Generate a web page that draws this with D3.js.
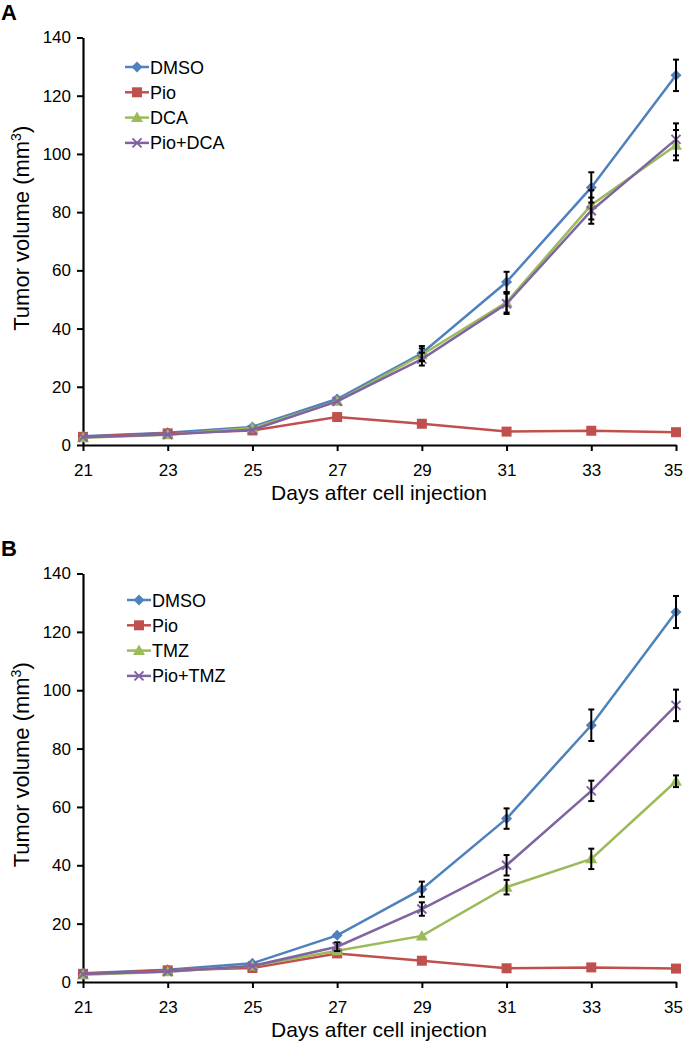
<!DOCTYPE html>
<html>
<head>
<meta charset="utf-8">
<script src="https://cdn.jsdelivr.net/npm/d3@7"></script>
<style>
  body { margin: 0; background: #fff; }
  text { font-family: 'Liberation Sans', Arial, sans-serif; fill: #000; }
</style>
</head>
<body>
<div id="vis"></div>
<script>
/* *************************** Data ***************************** */

// Days on the x axis
var days = [21, 23, 25, 27, 29, 31, 33, 35];
var xTicks = [21, 23, 25, 27, 29, 31, 33, 35];
var yTicks = [0, 20, 40, 60, 80, 100, 120, 140];

// Panel A series (mean tumor volume, mm3)
var dmsoA = [3.0, 4.2, 6.2, 15.8, 31.5, 56.0, 88.5, 127.0];
var pioA = [2.8, 4.0, 5.0, 9.6, 7.3, 4.6, 4.9, 4.4];
var dcaA = [2.5, 3.5, 5.8, 15.0, 31.0, 49.0, 82.5, 103.0];
var pioDcaA = [2.7, 3.6, 5.2, 15.0, 29.5, 48.5, 80.5, 105.0];

// Panel A error (+/-)
var dmsoErrA = [0.3, 0.4, 0.5, 0.8, 2.5, 3.5, 5.2, 5.4];
var pioErrA = [0.2, 0.3, 0.4, 0.6, 0.5, 0.4, 0.4, 0.4];
var dcaErrA = [0.2, 0.3, 0.5, 0.8, 2.2, 3.5, 5.0, 5.2];
var pioDcaErrA = [0.2, 0.3, 0.5, 0.8, 2.2, 3.5, 4.5, 5.5];

// Panel B series
var dmsoB = [3.0, 4.2, 6.4, 16.0, 31.8, 56.0, 88.0, 126.8];
var pioB = [2.8, 4.0, 4.8, 9.8, 7.3, 4.7, 5.0, 4.6];
var tmzB = [2.5, 3.5, 5.5, 10.7, 15.8, 32.5, 42.2, 68.8];
var pioTmzB = [2.7, 3.6, 5.5, 12.1, 25.0, 40.0, 65.5, 94.8];

// Panel B error (+/-)
var dmsoErrB = [0.3, 0.4, 0.5, 0.8, 2.6, 3.5, 5.4, 5.5];
var pioErrB = [0.2, 0.3, 0.4, 0.6, 0.5, 0.4, 0.4, 0.4];
var tmzErrB = [0.2, 0.3, 0.4, 0.6, 0.8, 2.5, 3.5, 2.0];
var pioTmzErrB = [0.2, 0.3, 0.5, 1.5, 2.3, 3.5, 3.5, 5.4];

/* *************************** Settings ***************************** */

var width = 684;
var height = 1050;

var colors = {
    blue: '#4f81bd',
    red: '#c0504d',
    green: '#9bbb59',
    purple: '#8064a2'
};

var svg = d3.select('#vis')
    .append('svg')
    .attr('width', width)
    .attr('height', height);

// x scale is shared by both panels
var xScale = d3.scaleLinear()
    .domain([21, 35])
    .range([83, 676]);

/* *************************** Markers ***************************** */

var drawMarker = function(sel, shape, color) {
    if (shape == 'diamond') {
        sel.append('path')
            .attr('d', 'M0,-5.5L5.5,0L0,5.5L-5.5,0Z')
            .attr('fill', color);
    } else if (shape == 'square') {
        sel.append('rect')
            .attr('x', -5).attr('y', -5)
            .attr('width', 10).attr('height', 10)
            .attr('fill', color);
    } else if (shape == 'triangle') {
        sel.append('path')
            .attr('d', 'M0,-6L6,4.5L-6,4.5Z')
            .attr('fill', color);
    } else {
        sel.append('path')
            .attr('d', 'M-4.5,-4.5L4.5,4.5M-4.5,4.5L4.5,-4.5')
            .attr('stroke', color)
            .attr('stroke-width', 2)
            .attr('fill', 'none');
    }
};

/* *************************** Draw a panel ***************************** */

var drawPanel = function(opts) {
    var yScale = d3.scaleLinear()
        .domain([0, 140])
        .range([opts.y0, opts.y140]);

    var g = svg.append('g');

    // Panel letter
    g.append('text')
        .attr('x', 1)
        .attr('y', opts.letterY)
        .style('font-size', '22px')
        .style('font-weight', 'bold')
        .text(opts.letter);

    // Axes
    var xAxis = d3.axisBottom(xScale)
        .tickValues(xTicks)
        .tickSizeInner(6)
        .tickSizeOuter(0)
        .tickPadding(13);
    var yAxis = d3.axisLeft(yScale)
        .tickValues(yTicks)
        .tickSizeInner(6)
        .tickSizeOuter(0)
        .tickPadding(6);

    var xg = g.append('g')
        .attr('transform', 'translate(0,' + opts.y0 + ')')
        .call(xAxis);
    var yg = g.append('g')
        .attr('transform', 'translate(' + xScale(21) + ',0)')
        .call(yAxis);

    [xg, yg].forEach(function(a) {
        a.select('.domain').attr('stroke', '#000').attr('stroke-width', 2.2);
        a.selectAll('.tick line').attr('stroke', '#000').attr('stroke-width', 2);
        a.selectAll('.tick text')
            .style('font-family', "'Liberation Sans', Arial, sans-serif")
            .style('font-size', '17px')
            .attr('fill', '#000');
    });

    // last x label sits against the right edge
    xg.selectAll('.tick text')
        .filter(function(d) { return d == 35; })
        .attr('dx', -3);

    // Axis titles
    g.append('text')
        .attr('x', 379)
        .attr('y', opts.y0 + 55)
        .attr('text-anchor', 'middle')
        .style('font-size', '21px')
        .text('Days after cell injection');

    var yt = g.append('text')
        .attr('transform', 'translate(29,' + ((opts.y0 + opts.y140) / 2 - 13) + ') rotate(-90)')
        .attr('text-anchor', 'middle')
        .style('font-size', '22px');
    yt.append('tspan').text('Tumor volume (mm');
    yt.append('tspan').attr('dy', -8).style('font-size', '14px').text('3');
    yt.append('tspan').attr('dy', 8).text(')');

    // Lines
    var line = d3.line()
        .x(function(d) { return xScale(d.day); })
        .y(function(d) { return yScale(d.v); });

    opts.series.forEach(function(s) {
        var pts = days.map(function(d, i) {
            return { day: d, v: s.values[i], e: s.err[i] };
        });
        s.pts = pts;
        g.append('path')
            .datum(pts)
            .attr('d', line)
            .attr('fill', 'none')
            .attr('stroke', s.color)
            .attr('stroke-width', 2.5);
        g.selectAll(null)
            .data(pts)
            .enter()
            .append('g')
            .attr('transform', function(d) {
                return 'translate(' + xScale(d.day) + ',' + yScale(d.v) + ')';
            })
            .each(function() {
                drawMarker(d3.select(this), s.shape, s.color);
            });
    });

    // Error bars on top (tiny ones are hidden under the markers)
    opts.series.forEach(function(s) {
        var eb = g.selectAll(null)
            .data(s.pts.filter(function(d) { return d.e > 1; }))
            .enter()
            .append('g')
            .attr('stroke', '#000')
            .attr('stroke-width', 2);
        eb.append('line')
            .attr('x1', function(d) { return xScale(d.day); })
            .attr('x2', function(d) { return xScale(d.day); })
            .attr('y1', function(d) { return yScale(d.v - d.e); })
            .attr('y2', function(d) { return yScale(d.v + d.e); });
        [-1, 1].forEach(function(sign) {
            eb.append('line')
                .attr('x1', function(d) { return xScale(d.day) - 3; })
                .attr('x2', function(d) { return xScale(d.day) + 3; })
                .attr('y1', function(d) { return yScale(d.v + sign * d.e); })
                .attr('y2', function(d) { return yScale(d.v + sign * d.e); });
        });
    });

    // Legend
    var leg = g.selectAll('.legend')
        .data(opts.series)
        .enter()
        .append('g')
        .attr('class', 'legend')
        .attr('transform', function(d, i) {
            return 'translate(' + opts.legX + ',' + (opts.legY + i * 25.3) + ')';
        });
    leg.append('line')
        .attr('x1', 0).attr('x2', 24)
        .attr('stroke', function(d) { return d.color; })
        .attr('stroke-width', 2.5);
    leg.append('g')
        .attr('transform', 'translate(12,0)')
        .each(function(d) {
            drawMarker(d3.select(this), d.shape, d.color);
        });
    leg.append('text')
        .attr('x', 25)
        .attr('y', 6.5)
        .style('font-size', '18px')
        .text(function(d) { return d.name; });
};

/* *************************** Draw ***************************** */

drawPanel({
    letter: 'A',
    letterY: 20,
    y0: 445,
    y140: 37.5,
    legX: 125,
    legY: 67,
    series: [
        { name: 'DMSO', values: dmsoA, err: dmsoErrA, color: colors.blue, shape: 'diamond' },
        { name: 'Pio', values: pioA, err: pioErrA, color: colors.red, shape: 'square' },
        { name: 'DCA', values: dcaA, err: dcaErrA, color: colors.green, shape: 'triangle' },
        { name: 'Pio+DCA', values: pioDcaA, err: pioDcaErrA, color: colors.purple, shape: 'x' }
    ]
});

drawPanel({
    letter: 'B',
    letterY: 556,
    y0: 982,
    y140: 573.5,
    legX: 127,
    legY: 600,
    series: [
        { name: 'DMSO', values: dmsoB, err: dmsoErrB, color: colors.blue, shape: 'diamond' },
        { name: 'Pio', values: pioB, err: pioErrB, color: colors.red, shape: 'square' },
        { name: 'TMZ', values: tmzB, err: tmzErrB, color: colors.green, shape: 'triangle' },
        { name: 'Pio+TMZ', values: pioTmzB, err: pioTmzErrB, color: colors.purple, shape: 'x' }
    ]
});
</script>
</body>
</html>
